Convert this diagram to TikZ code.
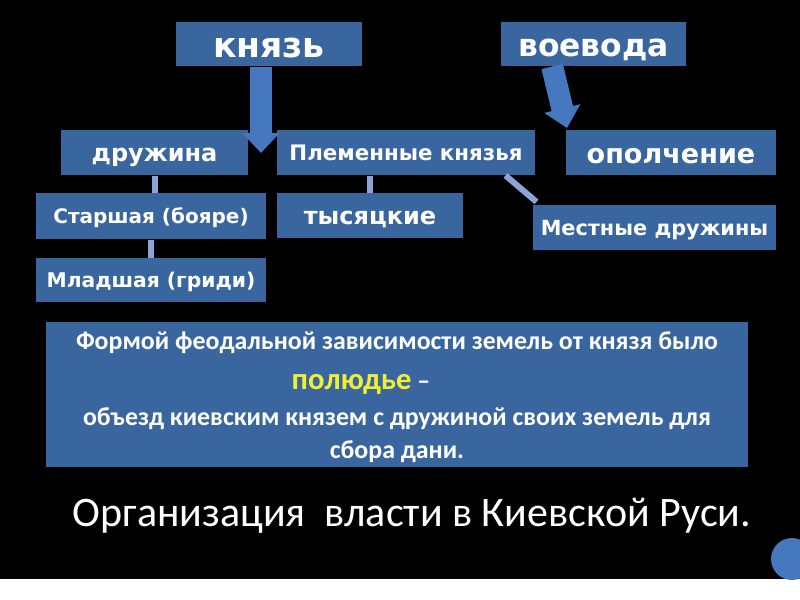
\documentclass[tikz,border=0pt]{standalone}
\usepackage{fontspec}
\setmainfont{DejaVu Sans}
\newfontfamily\notefont{Carlito}
\usetikzlibrary{arrows.meta}

\definecolor{boxblue}{RGB}{58,102,160}
\definecolor{arrowblue}{RGB}{70,120,192}
\definecolor{linkblue}{RGB}{142,164,214}
\definecolor{markyellow}{RGB}{240,240,50}

\tikzset{every picture/.style={line width=0.75pt}}
\tikzset{
  box/.style={fill=boxblue, text=white, inner sep=0pt},
  boxfont/.style={font=\bfseries\fontsize{#1}{#1}\selectfont, text height=0.78*#1pt, text depth=0pt},
  link/.style={draw=linkblue, line width=4.5pt},
  bigarrow/.style={draw=arrowblue, line width=16.5pt, -{Triangle[length=15pt,width=27pt]}}
}

\begin{document}
\begin{tikzpicture}[x=0.75pt,y=0.75pt,yscale=-1,xscale=1]
	%background
	\fill [black] (0,0) rectangle (800,579) ;
	\fill [white] (0,579) rectangle (800,600) ;
	\useasboundingbox (0,0) rectangle (800,600) ;
	
	% Text Node
	\node [box, boxfont=26, minimum width=139.5pt, minimum height=33pt] (knyaz) at (269,44) {князь};
	% Text Node
	\node [box, boxfont=23.5, minimum width=138.75pt, minimum height=33pt] (voevoda) at (593.5,44) {воевода};
	% Text Node
	\node [box, boxfont=18, minimum width=140.25pt, minimum height=33.75pt] (druzhina) at (154.5,152.5) {дружина};
	% Text Node
	\node [box, boxfont=16, minimum width=193.5pt, minimum height=33.75pt] (plemen) at (406,152.5) {Племенные князья};
	% Text Node
	\node [box, boxfont=20.3, minimum width=157.5pt, minimum height=33.75pt] (opolch) at (671,152.5) {ополчение};
	% Text Node
	\node [box, boxfont=15, minimum width=172.5pt, minimum height=34.5pt] (starsh) at (151,216) {Старшая (бояре)};
	% Text Node
	\node [box, boxfont=18, minimum width=139.5pt, minimum height=33.75pt] (tysyach) at (370,215.5) {тысяцкие};
	% Text Node
	\node [box, boxfont=15.6, minimum width=182.25pt, minimum height=33.75pt] (mestn) at (654.5,227.5) {Местные дружины};
	% Text Node
	\node [box, boxfont=15.2, minimum width=172.5pt, minimum height=33pt] (mladsh) at (151,280) {Младшая (гриди)};
	
	%Block Arrows
	\draw [bigarrow] ([xshift=-6pt]knyaz.south) -- (261,153) ;
	\draw [bigarrow] ([xshift=-31pt]voevoda.south) -- (567,128) ;
	
	%Straight Lines
	\draw [link] (druzhina.south) -- (druzhina.south |- starsh.north) ;
	\draw [link] (starsh.south) -- (mladsh.north) ;
	\draw [link] (tysyach.north) -- (tysyach.north |- plemen.south) ;
	\draw [link] ([xshift=-22.5pt]plemen.south east) -- ([xshift=3pt,yshift=-2pt]mestn.north west) ;
	
	% Text Node
	\node [box, minimum width=526.5pt, minimum height=108.75pt] (note) at (397,394.5) {};
	\node [text=white, inner sep=0pt, align=center, font=\notefont\bfseries\fontsize{19.4}{25}\selectfont] (notetext) at (397,397.5)
	  {Формой феодальной зависимости земель от князя было\\[5pt]
	   {\color{markyellow}\fontsize{23}{25}\selectfont полюдье} –\rule{54pt}{0pt}\\[2pt]
	   объезд киевским князем с дружиной своих земель для\\
	   сбора дани.};
	
	% Text Node
	\node [text=white, inner sep=0pt, font=\notefont\fontsize{31.5}{36}\selectfont] (title) at (412,516) {Организация\ \ власти в Киевской Руси.};
	
	%circle at the edge
	\fill [arrowblue] (792,559) circle (21) ;
\end{tikzpicture}
\end{document}
